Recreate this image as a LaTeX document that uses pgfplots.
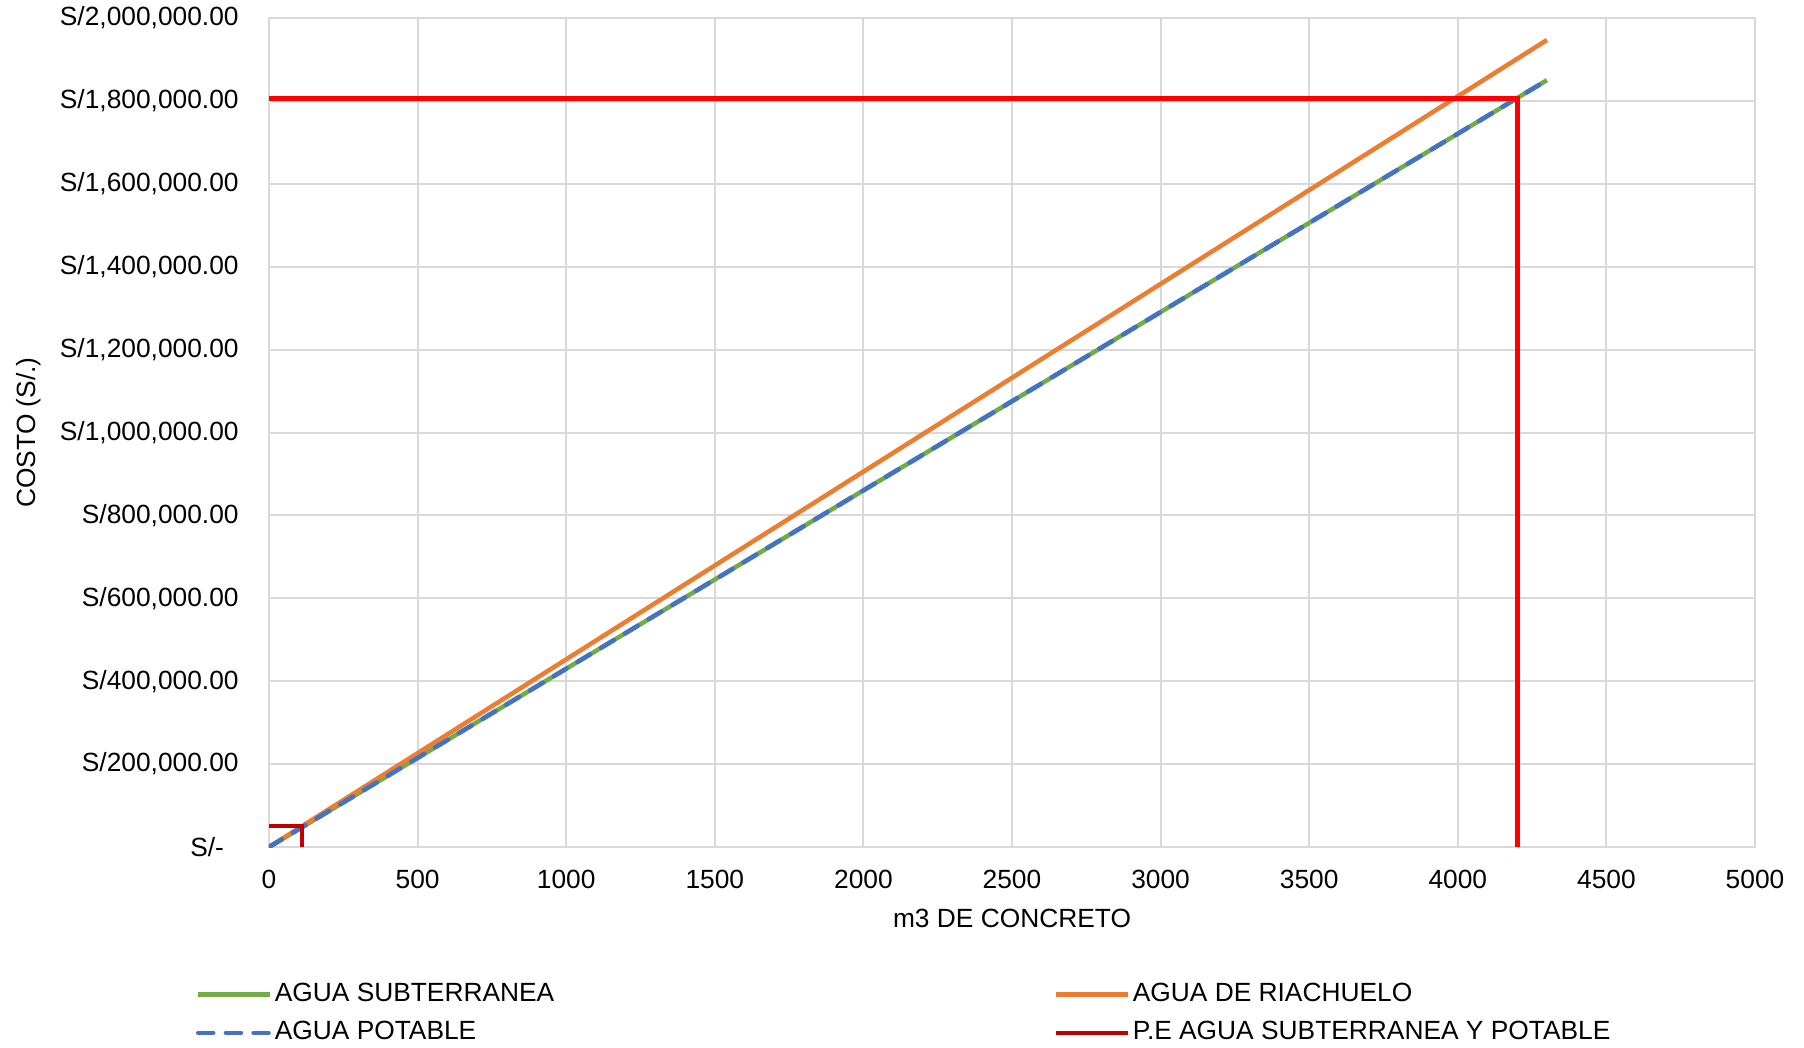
\documentclass[border=0pt]{standalone}
\usepackage{pgfplots}
\pgfplotsset{compat=1.18}
\usepackage{fontspec}
\setmainfont{Liberation Sans}
\definecolor{cgreen}{HTML}{70AD47}
\definecolor{corange}{HTML}{ED7D31}
\definecolor{cblue}{HTML}{4472C4}
\definecolor{cdred}{HTML}{C00000}
\definecolor{cred}{HTML}{FF0000}
\definecolor{cgrid}{HTML}{D9D9D9}
\newcommand{\ff}{\fontsize{7.9pt}{9.4pt}\selectfont}
\begin{document}
\begin{tikzpicture}
\begin{axis}[
  name=ax,
  scale only axis,
  width=445.8pt, height=248.7pt,
  xmin=0, xmax=5000, ymin=0, ymax=2000000,
  xtick={0,500,...,5000},
  ytick={0,200000,400000,600000,800000,1000000,1200000,1400000,1600000,1800000,2000000},
  yticklabels={S/-\phantom{0},S/200{,}000.00,S/400{,}000.00,S/600{,}000.00,S/800{,}000.00,S/1{,}000{,}000.00,S/1{,}200{,}000.00,S/1{,}400{,}000.00,S/1{,}600{,}000.00,S/1{,}800{,}000.00,S/2{,}000{,}000.00},
  /pgf/number format/assume math mode=true,
  /pgf/number format/1000 sep={},
  scaled y ticks=false,
  major tick length=0pt,
  grid=major,
  grid style={cgrid, line width=0.6pt},
  axis line style={cgrid, line width=0.6pt},
  tick label style={font=\ff, text=black},
  yticklabel style={xshift=-5.6pt},
  xticklabel style={yshift=-3.5pt},
  xlabel={m3 DE CONCRETO},
  ylabel={COSTO (S/.)},
  label style={font=\ff},
  xlabel style={at={(axis description cs:0.5,0)}, anchor=center, yshift=-21.5pt},
  ylabel style={at={(axis description cs:-0.1615,0.5)}, anchor=center},
  legend columns=2,
  legend cell align=left,
  legend style={at={(0,0)}, anchor=north west, xshift=-25.1pt, yshift=-36.5pt,
    draw=none, fill=none, font=\ff,
    nodes={inner xsep=0.7pt},
    /tikz/column 2/.style={column sep=149.2pt},
    row sep=0.5pt},
  legend image code/.code={\draw[#1] (0pt,0pt) -- (21.6pt,0pt);},
]
\addplot[cgreen, line width=1.35pt] coordinates {(0,0) (1000,430200) (2000,860400) (3000,1290600) (4300,1850000)};
\addlegendentry{AGUA SUBTERRANEA}
\addplot[corange, line width=1.35pt] coordinates {(0,0) (1000,452800) (2000,905600) (3000,1358400) (4300,1947000)};
\addlegendentry{AGUA DE RIACHUELO}
\addplot[cblue, line width=1.35pt, dash pattern=on 4.5pt off 3.8pt, line cap=round] coordinates {(0,0) (1000,430200) (2000,860400) (3000,1290600) (4300,1850000)};
\addlegendentry{AGUA POTABLE}
\addplot[cdred, line width=1.35pt] coordinates {(0,50500) (111,50500) (111,0)};
\addlegendentry{P.E AGUA SUBTERRANEA Y POTABLE}
\addplot[cred, line width=1.35pt, forget plot] coordinates {(0,1806000) (4200,1806000) (4200,0)};
\end{axis}
\pgfresetboundingbox
\path[use as bounding box] ([xshift=-80.7pt, yshift=-60pt]ax.south west) rectangle ([xshift=14.7pt, yshift=5.4pt]ax.north east);
\end{tikzpicture}
\end{document}
